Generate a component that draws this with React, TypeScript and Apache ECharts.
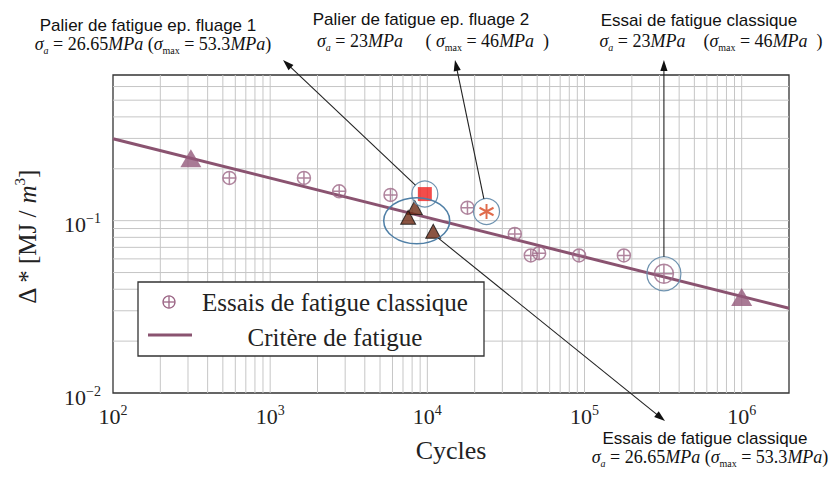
import React, { useEffect, useRef } from 'react';
import * as echarts from 'echarts';

// Axis ranges (log scales)
const X_MIN = 100;
const X_MAX = 2e6;
const Y_MIN = 0.01;
const Y_MAX = 0.7;

// Log grid: every k·10^n inside the ranges
const DECADES_X = [100, 1000, 10000, 100000, 1000000];
const DECADES_Y = [0.01, 0.1];
const MANTISSAS = [1, 2, 3, 4, 5, 6, 7, 8, 9];
const GRID_X = DECADES_X.flatMap((d) => MANTISSAS.map((m) => m * d)).filter((v) => v > X_MIN && v < X_MAX);
const GRID_Y = DECADES_Y.flatMap((d) => MANTISSAS.map((m) => m * d)).filter((v) => v > Y_MIN * 1.0001 && v < Y_MAX);

// Fatigue criterion (straight line in log-log) and its two anchor points
const CRITERION_LINE = [
  [100, 0.299],
  [2e6, 0.031],
];
const CRITERION_POINTS = [
  [313, 0.23],
  [1e6, 0.036],
];

// Classical fatigue tests (crossed circles)
const CLASSIC_TESTS = [
  [550, 0.177],
  [1640, 0.177],
  [2750, 0.148],
  [5830, 0.141],
  [18000, 0.119],
  [36000, 0.0838],
  [45500, 0.0628],
  [51400, 0.0647],
  [92300, 0.0628],
  [178000, 0.0628],
  [320000, 0.0492],
];
// Test highlighted at sigma_a = 23 MPa
const HIGHLIGHTED_TEST = [320000, 0.0492];

// Creep-fatigue plateaus
const CREEP_PLATEAU_1 = [[9640, 0.1426]];
const CREEP_PLATEAU_2 = [[23800, 0.113]];

// Classical tests at sigma_a = 26.65 MPa
const CLASSIC_26 = [
  [8320, 0.119],
  [7550, 0.1045],
  [10900, 0.0868],
];

const SERIF = '"Liberation Serif", "Times New Roman", serif';
const SANS = '"Liberation Sans", Arial, sans-serif';
const MAUVE = '#8a5370';
const MAUVE_LIGHT = '#9c6686';
const HALO = '#6f93b0';
const INK = '#222';

const CROSSED_CIRCLE = 'path://M0,-10A10,10 0 1,1 0,10A10,10 0 1,1 0,-10Z M-10,0L10,0 M0,-10L0,10';
const ASTERISK = 'path://M0,-7L0,7 M-6.06,-3.5L6.06,3.5 M-6.06,3.5L6.06,-3.5';

const powLabel = (v: number) => {
  const e = Math.log10(v);
  const r = Math.round(e);
  if (Math.abs(e - r) > 1e-6) return '';
  return `{b|10}{p|${r < 0 ? '\u2212' + -r : r}}`;
};

const labelRich = {
  b: { fontFamily: SERIF, fontSize: 22, lineHeight: 26, color: INK },
  p: { fontFamily: SERIF, fontSize: 14, lineHeight: 14, verticalAlign: 'top', color: INK },
};

// Formula tokens: main glyphs sit at the top of the line, subscripts are pushed down by padding
const formulaRich = {
  g: { fontFamily: SERIF, fontStyle: 'italic', fontSize: 18, lineHeight: 16, verticalAlign: 'top' },
  n: { fontFamily: SERIF, fontSize: 18, lineHeight: 16, verticalAlign: 'top' },
  i: { fontFamily: SERIF, fontStyle: 'italic', fontSize: 18, lineHeight: 16, verticalAlign: 'top' },
  sa: { fontFamily: SERIF, fontStyle: 'italic', fontSize: 10, lineHeight: 10, verticalAlign: 'top', padding: [10, 0, 0, 0] },
  sm: { fontFamily: SERIF, fontSize: 10, lineHeight: 10, verticalAlign: 'top', padding: [10, 0, 0, 0] },
};

const vGridSeries = {
  type: 'custom',
  silent: true,
  z: 1,
  data: GRID_X.map((v) => [v, Y_MIN]),
  renderItem: (_p: any, api: any) => {
    const a = api.coord([api.value(0), Y_MIN]);
    const b = api.coord([api.value(0), Y_MAX]);
    return { type: 'line', shape: { x1: a[0], y1: a[1], x2: b[0], y2: b[1] }, style: { stroke: '#c6c6c6', lineWidth: 1 } };
  },
};

const hGridSeries = {
  type: 'custom',
  silent: true,
  z: 1,
  data: GRID_Y.map((v) => [X_MIN, v]),
  renderItem: (_p: any, api: any) => {
    const a = api.coord([X_MIN, api.value(1)]);
    const b = api.coord([X_MAX, api.value(1)]);
    return { type: 'line', shape: { x1: a[0], y1: a[1], x2: b[0], y2: b[1] }, style: { stroke: '#c6c6c6', lineWidth: 1 } };
  },
};

const baseOption = {
  animation: false,
  backgroundColor: '#fff',
  grid: { left: 113, top: 75, right: 46, bottom: 90, show: true, borderColor: '#333', borderWidth: 1.3, backgroundColor: '#fff' },
  xAxis: {
    type: 'log',
    logBase: 10,
    min: X_MIN,
    max: X_MAX,
    name: 'Cycles',
    nameLocation: 'middle',
    nameGap: 44,
    nameTextStyle: { fontFamily: SERIF, fontSize: 26, color: INK },
    axisLine: { show: false },
    axisTick: { show: false },
    splitLine: { show: false },
    axisLabel: { formatter: powLabel, rich: labelRich, margin: 10 },
  },
  yAxis: {
    type: 'log',
    logBase: 10,
    min: Y_MIN,
    max: Y_MAX,
    axisLine: { show: false },
    axisTick: { show: false },
    splitLine: { show: false },
    axisLabel: { formatter: powLabel, rich: labelRich, margin: 12, padding: [8, 0, 0, 0] },
  },
  series: [
    vGridSeries,
    hGridSeries,
    {
      type: 'line',
      data: CRITERION_LINE,
      symbol: 'none',
      z: 3,
      lineStyle: { color: MAUVE, width: 3 },
      silent: true,
    },
    {
      type: 'scatter',
      z: 4,
      data: CRITERION_POINTS,
      symbol: 'triangle',
      symbolSize: [21, 18],
      itemStyle: { color: '#93597a' },
    },
    {
      type: 'scatter',
      z: 4,
      data: CLASSIC_TESTS.map((p) =>
        p[0] === HIGHLIGHTED_TEST[0] && p[1] === HIGHLIGHTED_TEST[1] ? { value: p, symbolSize: 19 } : { value: p }
      ),
      symbol: CROSSED_CIRCLE,
      symbolSize: 13,
      itemStyle: { color: 'rgba(0,0,0,0)', borderColor: MAUVE_LIGHT, borderWidth: 1.5 },
    },
    {
      type: 'scatter',
      z: 5,
      data: CREEP_PLATEAU_1,
      symbol: 'rect',
      symbolSize: 14,
      itemStyle: { color: '#f0201e' },
    },
    {
      type: 'scatter',
      z: 5,
      data: CREEP_PLATEAU_2,
      symbol: ASTERISK,
      symbolSize: [14, 15],
      itemStyle: { color: 'rgba(0,0,0,0)', borderColor: '#d8461e', borderWidth: 2 },
    },
    {
      type: 'scatter',
      z: 5,
      data: CLASSIC_26,
      symbol: 'triangle',
      symbolSize: [15, 14],
      itemStyle: { color: '#6e2a14', borderColor: '#111', borderWidth: 1 },
    },
  ],
};

function arrow(from: number[], to: number[]) {
  const dx = to[0] - from[0];
  const dy = to[1] - from[1];
  const len = Math.hypot(dx, dy);
  const ux = dx / len;
  const uy = dy / len;
  const L = 11;
  const W = 3.6;
  const bx = to[0] - ux * L;
  const by = to[1] - uy * L;
  return [
    {
      type: 'line',
      z: 100,
      silent: true,
      shape: { x1: from[0], y1: from[1], x2: bx + ux * 2, y2: by + uy * 2 },
      style: { stroke: INK, lineWidth: 1.1 },
    },
    {
      type: 'polygon',
      z: 100,
      silent: true,
      shape: { points: [[to[0], to[1]], [bx - uy * W, by + ux * W], [bx + uy * W, by - ux * W]] },
      style: { fill: '#111' },
    },
  ];
}

function towards(center: number[], target: number[], rx: number, ry: number) {
  const dx = target[0] - center[0];
  const dy = target[1] - center[1];
  const t = 1 / Math.sqrt((dx / rx) ** 2 + (dy / ry) ** 2);
  return [center[0] + dx * t, center[1] + dy * t];
}

const title = (text: string, x: number, y: number) => ({
  type: 'text',
  z: 100,
  silent: true,
  x,
  y,
  style: { text, fontFamily: SANS, fontSize: 17, lineHeight: 17, fill: '#111', align: 'center', verticalAlign: 'middle' },
});

// y is the centre of the main glyphs; the line box is 4px deeper because of the subscripts
const formula = (text: string, x: number, y: number) => ({
  type: 'text',
  z: 100,
  silent: true,
  x,
  y: y - 8,
  style: { text, rich: formulaRich, fill: '#111', align: 'center', verticalAlign: 'top' },
});

const halo = (c: number[], r: number) => ({
  type: 'circle',
  z: 90,
  silent: true,
  shape: { cx: c[0], cy: c[1], r },
  style: { fill: 'none', stroke: HALO, lineWidth: 1.2 },
});

export default function App() {
  const ref = useRef<HTMLDivElement>(null);

  useEffect(() => {
    if (!ref.current) return;
    const chart = echarts.init(ref.current, null, { renderer: 'svg' });
    chart.setOption(baseOption as any);

    const px = (p: number[]) => chart.convertToPixel({ gridIndex: 0 }, p) as number[];

    const sq = px(CREEP_PLATEAU_1[0]);
    const ast = px(CREEP_PLATEAU_2[0]);
    const hi = px(HIGHLIGHTED_TEST);
    const tri = CLASSIC_26.map(px);
    const ell = [
      tri.reduce((s, p) => s + p[0], 0) / tri.length - 2,
      tri.reduce((s, p) => s + p[1], 0) / tri.length + 2,
    ];
    const ERX = 33;
    const ERY = 23;

    const tip1 = [283, 60];
    const tip2 = [455, 60];
    const tip3 = [hi[0], 60];
    const tip4 = [665, 421];

    const graphic: any[] = [
      // highlight rings and ellipse
      halo(sq, 13),
      halo(ast, 13),
      halo(hi, 17),
      {
        type: 'ellipse',
        z: 90,
        silent: true,
        shape: { cx: ell[0], cy: ell[1], rx: ERX, ry: ERY },
        style: { fill: 'none', stroke: '#4f7fa6', lineWidth: 1.5 },
      },
      ...arrow(towards(sq, tip1, 13, 13), tip1),
      ...arrow(towards(ast, tip2, 13, 13), tip2),
      ...arrow(towards(hi, tip3, 17, 17), tip3),
      ...arrow(towards(ell, tip4, ERX, ERY), tip4),

      // annotations
      title('Palier de fatigue ep. fluage 1', 148, 25),
      formula('{g|σ}{sa|a}{n| = 26.65}{i|MPa}{n| (}{g|σ}{sm|max}{n| = 53.3}{i|MPa}{n|)}', 153, 43),
      title('Palier de fatigue ep. fluage 2', 421, 19),
      formula('{g|σ}{sa|a}{n| = 23}{i|MPa}{n|     ( }{g|σ}{sm|max}{n| = 46}{i|MPa}{n|  )}', 433, 40),
      title('Essai de fatigue classique', 699, 20),
      formula('{g|σ}{sa|a}{n| = 23}{i|MPa}{n|    (}{g|σ}{sm|max}{n| = 46}{i|MPa}{n|  )}', 711, 40),
      title('Essais de fatigue classique', 705, 438),
      formula('{g|σ}{sa|a}{n| = 26.65}{i|MPa}{n| (}{g|σ}{sm|max}{n| = 53.3}{i|MPa}{n|)}', 710, 456),

      // y-axis name
      {
        type: 'text',
        z: 100,
        silent: true,
        x: 27,
        y: 237,
        rotation: Math.PI / 2,
        style: {
          text: '{b|Δ * [MJ / }{m|m}{p|3}{b|]}',
          rich: {
            b: { fontFamily: SERIF, fontSize: 25, lineHeight: 30 },
            m: { fontFamily: SERIF, fontStyle: 'italic', fontSize: 25, lineHeight: 30 },
            p: { fontFamily: SERIF, fontSize: 15, lineHeight: 15, verticalAlign: 'top' },
          },
          fill: INK,
          align: 'center',
          verticalAlign: 'middle',
        },
      },

      // legend
      {
        type: 'rect',
        z: 95,
        silent: true,
        shape: { x: 138, y: 282, width: 346, height: 74 },
        style: { fill: '#fff', stroke: '#333', lineWidth: 1.3 },
      },
      {
        type: 'circle',
        z: 100,
        silent: true,
        shape: { cx: 169, cy: 302, r: 6 },
        style: { fill: 'none', stroke: MAUVE_LIGHT, lineWidth: 1.3 },
      },
      { type: 'line', z: 100, silent: true, shape: { x1: 163, y1: 302, x2: 175, y2: 302 }, style: { stroke: MAUVE_LIGHT, lineWidth: 1.3 } },
      { type: 'line', z: 100, silent: true, shape: { x1: 169, y1: 296, x2: 169, y2: 308 }, style: { stroke: MAUVE_LIGHT, lineWidth: 1.3 } },
      { type: 'line', z: 100, silent: true, shape: { x1: 148, y1: 335, x2: 192, y2: 335 }, style: { stroke: MAUVE, lineWidth: 3 } },
      {
        type: 'text',
        z: 100,
        silent: true,
        x: 335,
        y: 302,
        style: { text: 'Essais de fatigue classique', fontFamily: SERIF, fontSize: 25, fill: INK, align: 'center', verticalAlign: 'middle' },
      },
      {
        type: 'text',
        z: 100,
        silent: true,
        x: 335,
        y: 337,
        style: { text: 'Critère de fatigue', fontFamily: SERIF, fontSize: 25, fill: INK, align: 'center', verticalAlign: 'middle' },
      },
    ];

    chart.setOption({ graphic });
    return () => chart.dispose();
  }, []);

  return <div ref={ref} style={{ position: 'fixed', left: 0, top: 0, width: 835, height: 483, background: '#fff' }} />;
}
